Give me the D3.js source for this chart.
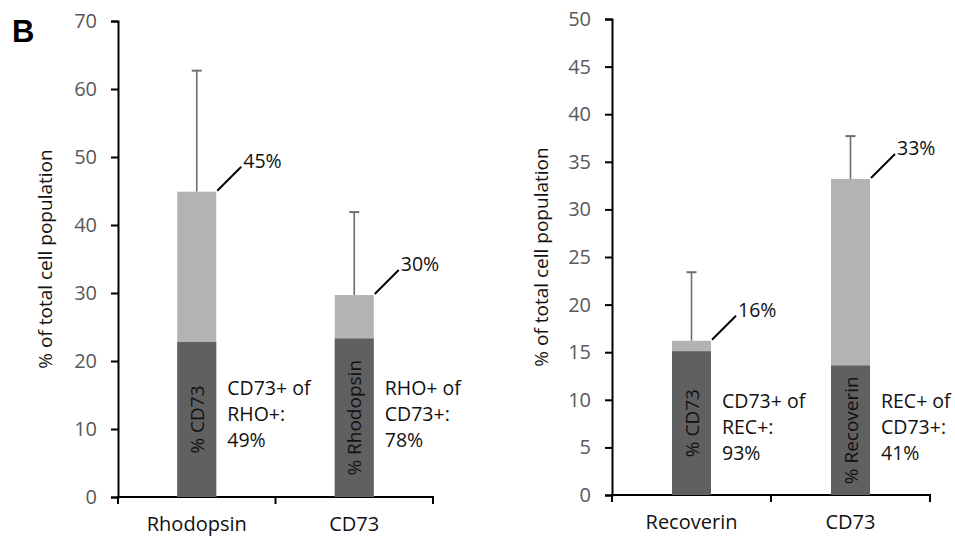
<!DOCTYPE html>
<html>
<head>
<meta charset="utf-8">
<script src="https://cdn.jsdelivr.net/npm/d3@7"></script>
<style>
  body { margin: 0; background: #fff; }
  svg text { font-family: "Open Sans", Lato, sans-serif; }
</style>
</head>
<body>
<svg id="chart" width="955" height="539"></svg>
<script>
// panel B left: rhodopsin / CD73
const leftCategories = ["Rhodopsin", "CD73"];
const leftTotal = [44.9, 29.7];
const leftOverlap = [22.8, 23.3];
const leftErrorTop = [62.7, 41.9];
const leftTotalLabels = ["45%", "30%"];
const leftInBar = ["% CD73", "% Rhodopsin"];
const leftNotes = [["CD73+ of", "RHO+:", "49%"], ["RHO+ of", "CD73+:", "78%"]];
const leftTicks = [0, 10, 20, 30, 40, 50, 60, 70];

// panel B right: recoverin / CD73
const rightCategories = ["Recoverin", "CD73"];
const rightTotal = [16.2, 33.2];
const rightOverlap = [15.1, 13.6];
const rightErrorTop = [23.4, 37.7];
const rightTotalLabels = ["16%", "33%"];
const rightInBar = ["% CD73", "% Recoverin"];
const rightNotes = [["CD73+ of", "REC+:", "93%"], ["REC+ of", "CD73+:", "41%"]];
const rightTicks = [0, 5, 10, 15, 20, 25, 30, 35, 40, 45, 50];

const svg = d3.select("#chart");

svg.append("text")
   .attr("x", 12).attr("y", 42)
   .style("font-family", "Arial, 'Liberation Sans', sans-serif")
   .style("font-size", "31px")
   .style("font-weight", "bold")
   .text("B");

function drawPanel(opt) {
    const y = d3.scaleLinear()
                .domain([0, opt.ticks[opt.ticks.length - 1]])
                .range([opt.bottom, opt.top]);

    const x = d3.scaleBand()
                .domain(opt.categories)
                .range([opt.left, opt.right])
                .paddingInner(0)
                .paddingOuter(0);

    const barW = 39;
    const g = svg.append("g");

    // y axis
    const yAxis = g.append("g")
       .attr("transform", `translate(${opt.left},0)`)
       .call(d3.axisLeft(y).tickValues(opt.ticks).tickSize(7).tickPadding(14));
    yAxis.select(".domain").attr("stroke", "#000").attr("stroke-width", 2);
    yAxis.selectAll(".tick line").attr("stroke", "#000").attr("stroke-width", 2);
    yAxis.selectAll(".tick text")
         .attr("fill", "#595959")
         .style("font-size", "20px")
         .style("font-family", "'Open Sans', sans-serif");

    // x axis, ticks at band edges
    const xg = g.append("g");
    xg.append("line")
      .attr("x1", opt.left - 1).attr("x2", opt.right + 1)
      .attr("y1", y(0)).attr("y2", y(0))
      .attr("stroke", "#000").attr("stroke-width", 2);
    const edges = opt.categories.map(c => x(c)).concat([opt.right]);
    xg.selectAll(".xt")
      .data(edges)
      .enter().append("line")
      .attr("x1", d => d).attr("x2", d => d)
      .attr("y1", y(0)).attr("y2", y(0) + 7)
      .attr("stroke", "#000").attr("stroke-width", 2);
    xg.selectAll(".xl")
      .data(opt.categories)
      .enter().append("text")
      .attr("x", d => x(d) + x.bandwidth() / 2)
      .attr("y", y(0) + 34)
      .attr("text-anchor", "middle")
      .style("font-size", "20px")
      .attr("fill", "#111")
      .text(d => d);

    const cx = i => x(opt.categories[i]) + x.bandwidth() / 2;
    const idx = d3.range(opt.categories.length);

    // error bars (upper only)
    g.selectAll(".err")
     .data(idx)
     .enter().append("line")
     .attr("x1", cx).attr("x2", cx)
     .attr("y1", i => y(opt.errorTop[i])).attr("y2", i => y(opt.total[i]))
     .attr("stroke", "#6e6e6e").attr("stroke-width", 1.6);
    g.selectAll(".cap")
     .data(idx)
     .enter().append("line")
     .attr("x1", i => cx(i) - 5).attr("x2", i => cx(i) + 5)
     .attr("y1", i => y(opt.errorTop[i])).attr("y2", i => y(opt.errorTop[i]))
     .attr("stroke", "#6e6e6e").attr("stroke-width", 2);

    // light part: total
    g.selectAll(".tot")
     .data(idx)
     .enter().append("rect")
     .attr("x", i => cx(i) - barW / 2)
     .attr("width", barW)
     .attr("y", i => y(opt.total[i]))
     .attr("height", i => y(0) - y(opt.total[i]))
     .attr("fill", "#b3b3b3");

    // dark part: overlap
    g.selectAll(".ovl")
     .data(idx)
     .enter().append("rect")
     .attr("x", i => cx(i) - barW / 2)
     .attr("width", barW)
     .attr("y", i => y(opt.overlap[i]))
     .attr("height", i => y(0) - y(opt.overlap[i]))
     .attr("fill", "#606060");

    // in-bar rotated labels
    g.selectAll(".inbar")
     .data(idx)
     .enter().append("text")
     .attr("transform", i => `translate(${cx(i) + 7},${(y(opt.overlap[i]) + y(0)) / 2}) rotate(-90)`)
     .attr("text-anchor", "middle")
     .style("font-size", "19px")
     .attr("fill", "#111")
     .text(i => opt.inBar[i]);

    // leader lines + total labels
    g.selectAll(".lead")
     .data(idx)
     .enter().append("line")
     .attr("x1", i => cx(i) + barW / 2 + 1).attr("y1", i => y(opt.total[i]) - 1)
     .attr("x2", i => cx(i) + barW / 2 + 25).attr("y2", i => y(opt.total[i]) - 25)
     .attr("stroke", "#000").attr("stroke-width", 2);
    g.selectAll(".totlab")
     .data(idx)
     .enter().append("text")
     .attr("x", i => cx(i) + barW / 2 + 27)
     .attr("y", i => y(opt.total[i]) - 24)
     .style("font-size", "19.5px")
     .attr("fill", "#111")
     .text(i => opt.totalLabels[i]);

    // notes right of bars
    idx.forEach(i => {
        const t = g.append("text")
                   .attr("x", cx(i) + barW / 2 + 11)
                   .attr("y", opt.noteY)
                   .style("font-size", "19.5px")
                   .attr("fill", "#111");
        opt.notes[i].forEach((line, k) => {
            t.append("tspan")
             .attr("x", cx(i) + barW / 2 + 11)
             .attr("dy", k === 0 ? 0 : 26)
             .text(line);
        });
    });

    // y title
    g.append("text")
     .attr("transform", `translate(${opt.titleX},${(opt.top + opt.bottom) / 2}) rotate(-90)`)
     .attr("text-anchor", "middle")
     .style("font-size", "19px")
     .attr("fill", "#111")
     .text("% of total cell population");
}

drawPanel({
    categories: leftCategories, total: leftTotal, overlap: leftOverlap,
    errorTop: leftErrorTop, totalLabels: leftTotalLabels, inBar: leftInBar,
    notes: leftNotes, ticks: leftTicks,
    left: 118, right: 433, top: 21, bottom: 497, titleX: 52, noteY: 395
});

drawPanel({
    categories: rightCategories, total: rightTotal, overlap: rightOverlap,
    errorTop: rightErrorTop, totalLabels: rightTotalLabels, inBar: rightInBar,
    notes: rightNotes, ticks: rightTicks,
    left: 612, right: 930, top: 19, bottom: 495, titleX: 548, noteY: 408
});
</script>
</body>
</html>
